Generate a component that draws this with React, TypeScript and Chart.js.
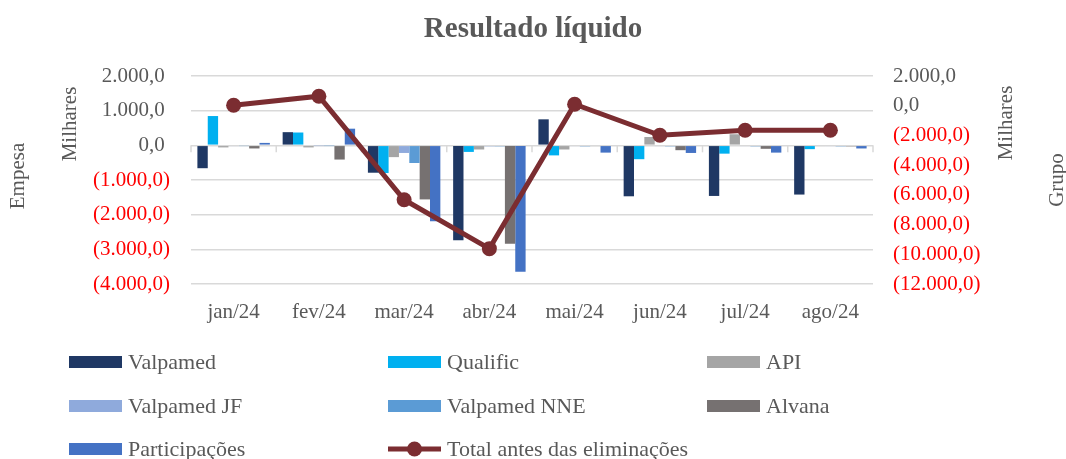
import React, { useEffect, useRef } from "react";
import { Chart, registerables } from "chart.js";

Chart.register(...registerables);

const months = ["jan/24", "fev/24", "mar/24", "abr/24", "mai/24", "jun/24", "jul/24", "ago/24"];
const valpamed = [-660, 380, -790, -2740, 750, -1470, -1460, -1420];
const qualific = [845, 370, -800, -190, -290, -400, -240, -110];
const api = [-60, -60, -340, -120, -120, 240, 320, -20];
const valpamedJF = [-20, -10, -220, -30, -20, -20, -20, -20];
const valpamedNNE = [-15, -10, -510, -30, -30, -30, -30, -30];
const alvana = [-90, -410, -1560, -2840, -20, -140, -100, -30];
const participacoes = [70, 480, -2190, -3650, -210, -220, -210, -90];
const totalAntes = [30, 640, -6330, -9620, 100, -1990, -1650, -1650];

const leftTicks = { min: -4000, max: 2000, step: 1000 };
const rightTicks = { min: -12000, max: 2000, step: 2000 };

const FONT = "'Liberation Serif', 'Times New Roman', serif";
const GRAY = "#595959";
const RED = "#FF0000";

const barSeries = [
  { label: "Valpamed", data: valpamed, color: "#1F3864" },
  { label: "Qualific", data: qualific, color: "#00B0F0" },
  { label: "API", data: api, color: "#A5A5A5" },
  { label: "Valpamed JF", data: valpamedJF, color: "#8FAADC" },
  { label: "Valpamed NNE", data: valpamedNNE, color: "#5B9BD5" },
  { label: "Alvana", data: alvana, color: "#767171" },
  { label: "Participações", data: participacoes, color: "#4472C4" },
];
const lineSeries = { label: "Total antes das eliminações", data: totalAntes, color: "#7B2D31" };

function fmtNum(v: number): string {
  const a = Math.abs(v);
  const [ip, dp] = a.toFixed(1).split(".");
  const withDots = ip.replace(/\B(?=(\d{3})+(?!\d))/g, ".");
  const s = withDots + "," + dp;
  return v < 0 ? "(" + s + ")" : s + " ";
}

const sideTitles = {
  id: "sideTitles",
  beforeDatasetsDraw(chart: any) {
    const { ctx, scales } = chart;
    const xs = scales.x;
    const y0 = scales.y.getPixelForValue(0);
    const n = months.length;
    const w = (xs.right - xs.left) / n;
    ctx.save();
    ctx.strokeStyle = "#D9D9D9";
    ctx.lineWidth = 1.5;
    for (let i = 0; i <= n; i++) {
      const x = xs.left + i * w;
      ctx.beginPath();
      ctx.moveTo(x, y0);
      ctx.lineTo(x, y0 + 7);
      ctx.stroke();
    }
    ctx.restore();
  },
  afterDraw(chart: any) {
    const { ctx } = chart;
    const items = [
      { t: "Empesa", x: 18, y: 176 },
      { t: "Milhares", x: 70, y: 124 },
      { t: "Milhares", x: 1006, y: 123 },
      { t: "Grupo", x: 1057, y: 180 },
    ];
    ctx.save();
    ctx.fillStyle = GRAY;
    ctx.font = "21px " + FONT;
    ctx.textAlign = "center";
    ctx.textBaseline = "middle";
    for (const it of items) {
      ctx.save();
      ctx.translate(it.x, it.y);
      ctx.rotate(-Math.PI / 2);
      ctx.fillText(it.t, 0, 0);
      ctx.restore();
    }
    ctx.restore();
  },
};

export default function App() {
  const ref = useRef<HTMLCanvasElement | null>(null);

  useEffect(() => {
    if (!ref.current) return;
    const datasets: any[] = barSeries.map((s) => ({
      type: "bar",
      label: s.label,
      data: s.data,
      backgroundColor: s.color,
      borderWidth: 0,
      yAxisID: "y",
      order: 1,
      categoryPercentage: 0.85,
      barPercentage: 1,
    }));
    datasets.push({
      type: "line",
      label: lineSeries.label,
      data: lineSeries.data,
      borderColor: lineSeries.color,
      backgroundColor: lineSeries.color,
      borderWidth: 5,
      pointRadius: 7.5,
      pointHoverRadius: 7.5,
      pointBackgroundColor: lineSeries.color,
      pointBorderWidth: 0,
      yAxisID: "y1",
      order: 0,
      tension: 0,
    });

    const chart = new Chart(ref.current, {
      type: "bar",
      data: { labels: months, datasets },
      options: {
        responsive: false,
        animation: false,
        devicePixelRatio: 1,
        layout: { padding: 0 },
        plugins: {
          legend: { display: false },
          tooltip: { enabled: false },
          title: {
            display: true,
            text: "Resultado líquido",
            color: GRAY,
            font: { family: FONT, size: 29, weight: "bold", lineHeight: 1.2 },
            padding: { top: 12, bottom: 29.2 },
          },
        },
        scales: {
          x: {
            grid: { display: false, drawTicks: false },
            border: { display: false },
            ticks: { color: GRAY, font: { family: FONT, size: 21 }, padding: 16, maxRotation: 0 },
            afterFit: (s: any) => {
              s.height = 175;
            },
          },
          y: {
            position: "left",
            min: leftTicks.min,
            max: leftTicks.max,
            grid: { color: "#D9D9D9", lineWidth: 1.5, drawTicks: false },
            border: { display: false },
            ticks: {
              stepSize: leftTicks.step,
              padding: 21,
              font: { family: FONT, size: 21 },
              color: (c: any) => (c.tick && c.tick.value < 0 ? RED : GRAY),
              callback: (v: any) => fmtNum(Number(v)),
            },
            afterFit: (s: any) => {
              s.width = 191;
            },
          },
          y1: {
            position: "right",
            min: rightTicks.min,
            max: rightTicks.max,
            grid: { display: false, drawTicks: false },
            border: { display: false },
            ticks: {
              stepSize: rightTicks.step,
              padding: 20,
              font: { family: FONT, size: 21 },
              color: (c: any) => (c.tick && c.tick.value < 0 ? RED : GRAY),
              callback: (v: any) => fmtNum(Number(v)),
            },
            afterFit: (s: any) => {
              s.width = 193;
            },
          },
        },
      } as any,
      plugins: [sideTitles],
    });
    return () => chart.destroy();
  }, []);

  const legendItems = [
    ...barSeries.map((s) => ({ label: s.label, color: s.color, line: false })),
    { label: lineSeries.label, color: lineSeries.color, line: true },
  ];
  const colX = [69, 388, 707];
  const rowY = [362, 406, 449];

  return (
    <div style={{ position: "fixed", left: 0, top: 0, width: 1066, height: 459, background: "#fff" }}>
      <canvas ref={ref} width={1066} height={459} style={{ display: "block" }} />
      {legendItems.map((it, i) => {
        const col = i % 3;
        const row = Math.floor(i / 3);
        return (
          <div
            key={it.label}
            style={{
              position: "absolute",
              left: colX[col],
              top: rowY[row] - 13,
              height: 26,
              display: "flex",
              alignItems: "center",
              whiteSpace: "nowrap",
              font: "22px " + FONT,
              color: GRAY,
            }}
          >
            {it.line ? (
              <svg width={53} height={16} style={{ marginRight: 6, display: "block" }}>
                <line x1={0} y1={8} x2={53} y2={8} stroke={it.color} strokeWidth={5} />
                <circle cx={26.5} cy={8} r={7.5} fill={it.color} />
              </svg>
            ) : (
              <span style={{ display: "inline-block", width: 53, height: 12, background: it.color, marginRight: 6 }} />
            )}
            <span>{it.label}</span>
          </div>
        );
      })}
    </div>
  );
}
